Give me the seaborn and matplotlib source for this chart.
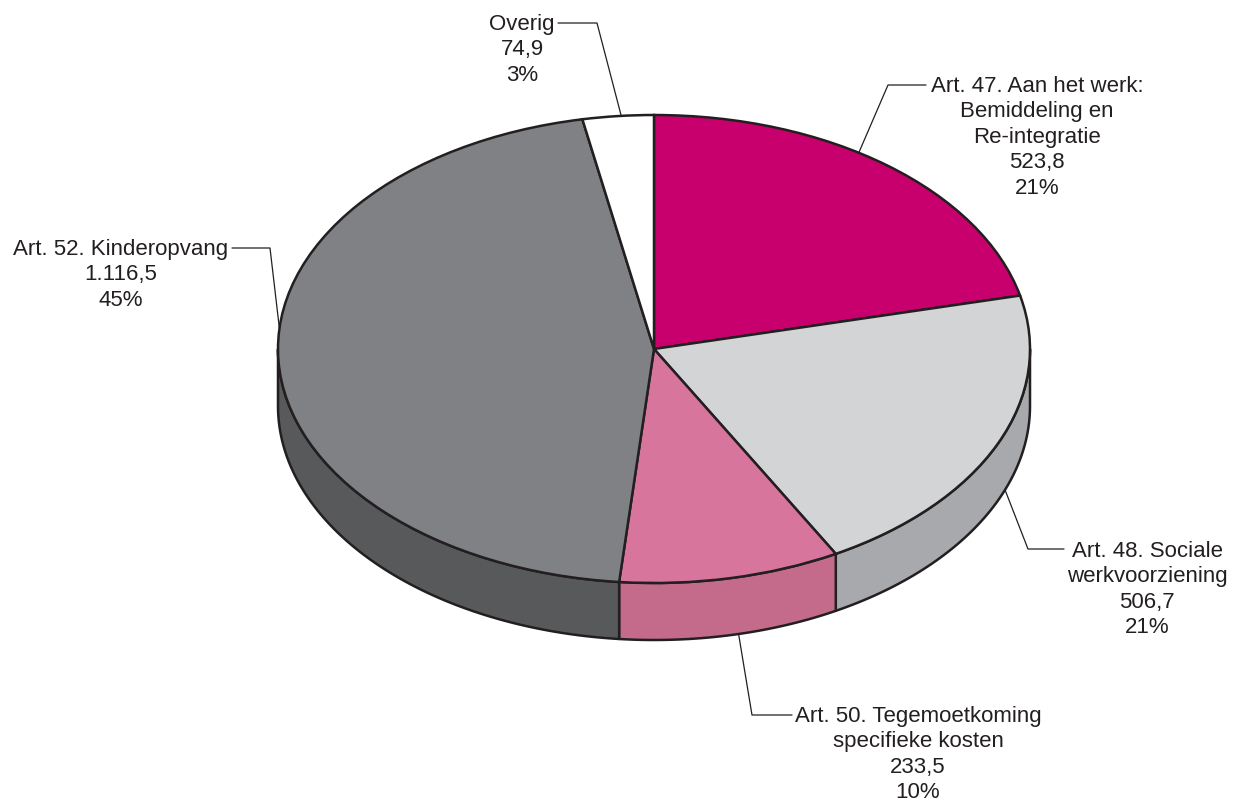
import numpy as np
import seaborn as sns
import matplotlib
matplotlib.use('Agg')
import matplotlib.pyplot as plt
from matplotlib.patches import Polygon

# Data
categories = ["Art. 47. Aan het werk:\nBemiddeling en\nRe-integratie",
              "Art. 48. Sociale\nwerkvoorziening",
              "Art. 50. Tegemoetkoming\nspecifieke kosten",
              "Art. 52. Kinderopvang",
              "Overig"]
values = [523.8, 506.7, 233.5, 1116.5, 74.9]
value_labels = ["523,8", "506,7", "233,5", "1.116,5", "74,9"]
pct_labels = ["21%", "21%", "10%", "45%", "3%"]

# Styling
top_colors = ["#C8006E", "#D3D4D6", "#D8759D", "#808184", "#FFFFFF"]
side_colors = ["#9E0057", "#A7A9AC", "#C46A8A", "#58595B", "#DDDDDD"]
edge = "#231F20"

sns.set_theme(style="white")
plt.rcParams['font.family'] = ['Liberation Sans', 'DejaVu Sans']

W, H = 1235, 803
CX, CY = 654, 350      # pie centre in pixels
A, B = 376, 234        # ellipse half axes in pixels
DEPTH = 57 / B         # side height in data units


def px(x, y):
    # pixel position -> data position (unit circle squashed into ellipse)
    return (x - CX) / A, (CY - y) / B


fig = plt.figure(figsize=(W / 100, H / 100), dpi=100)
ax = fig.add_axes([0, 0, 1, 1])

wedges, _ = ax.pie(values, startangle=90, counterclock=False, colors=top_colors,
                   radius=1, wedgeprops=dict(edgecolor=edge, linewidth=1.8, zorder=3))

# Sides of the disc (only the front half, 180..360 degrees, is visible)
for w, sc in zip(wedges, side_colors):
    t1, t2 = w.theta1, w.theta2
    for k in (-360, 0, 360):
        a, b = max(t1 + k, 180), min(t2 + k, 360)
        if b <= a:
            continue
        th = np.radians(np.linspace(a, b, 100))
        top = np.column_stack([np.cos(th), np.sin(th)])
        bot = np.column_stack([np.cos(th[::-1]), np.sin(th[::-1]) - DEPTH])
        ax.add_patch(Polygon(np.vstack([top, bot]), closed=True, facecolor=sc,
                             edgecolor=edge, linewidth=1.8, zorder=2, joinstyle='round'))

# Labels with leader lines
text_pos = [(1037, 85), (1147, 550), (918, 715), (121, 248), (522, 23)]
elbows = [((926, 86), (888, 86)), ((1064, 550), (1028, 550)),
          ((792, 716), (752, 716)), ((232, 249), (270, 249)), ((558, 24), (597, 24))]
anchor_angles = [57, -21, -77, 175, 95]
on_bottom = [False, True, True, False, False]

for i in range(len(values)):
    txt = f"{categories[i]}\n{value_labels[i]}\n{pct_labels[i]}"
    tx, ty = px(text_pos[i][0], text_pos[i][1] - 9)
    ax.text(tx, ty, txt, ha='center', va='top', fontsize=16, color=edge,
            linespacing=1.28, zorder=5)
    th = np.radians(anchor_angles[i])
    axp, ayp = np.cos(th), np.sin(th) - (DEPTH if on_bottom[i] else 0)
    p0 = px(*elbows[i][0])
    p1 = px(*elbows[i][1])
    ax.plot([p0[0], p1[0], axp], [p0[1], p1[1], ayp], color=edge, lw=0.9, zorder=4)

ax.set_aspect('auto')
ax.set_xlim(-CX / A, (W - CX) / A)
ax.set_ylim(-(H - CY) / B, CY / B)
ax.axis('off')

fig.savefig('out.png', dpi=100, facecolor='white')
